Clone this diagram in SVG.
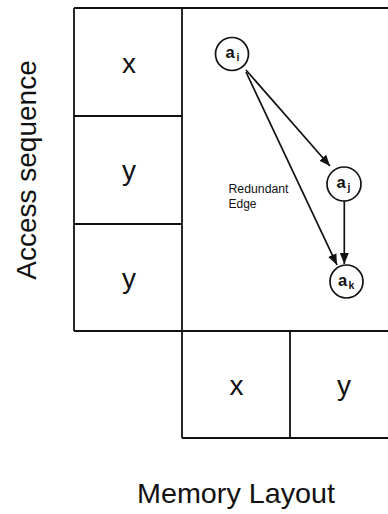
<svg xmlns="http://www.w3.org/2000/svg" width="388" height="514" viewBox="0 0 388 514">
  <style>
    .grid { stroke: #111; stroke-width: 1.8; fill: none; }
    .cell { font-family: "Liberation Sans", Arial, sans-serif; font-size: 28px; fill: #111; text-anchor: middle; }
    .axis { font-family: "Liberation Sans", Arial, sans-serif; font-size: 28px; fill: #111; text-anchor: middle; }
    .node circle { fill: #fff; stroke: #111; stroke-width: 1.7; }
    .node text { font-family: "Liberation Sans", Arial, sans-serif; font-weight: bold; fill: #111; }
    .edge { stroke: #111; stroke-width: 1.7; fill: none; marker-end: url(#arrow); }
    .note { font-family: "Liberation Sans", Arial, sans-serif; font-size: 12px; fill: #111; }
  </style>
  <defs>
    <marker id="arrow" markerUnits="userSpaceOnUse" markerWidth="12" markerHeight="10" viewBox="0 0 12 10" refX="11" refY="5" orient="auto">
      <path d="M0,0.5 L11,5 L0,9.5 Z" fill="#111"/>
    </marker>
  </defs>

  <rect width="388" height="514" fill="#fff"/>

  <!-- access sequence column and memory layout row -->
  <g id="grid" class="grid">
    <path d="M74,8 H388 M74,8 V331 M74,116 H182 M74,224 H182 M74,331 H388 M182,8 V438 M290,331 V438 M182,438 H388"/>
  </g>

  <g id="seq-1"><text class="cell" x="129" y="73">x</text></g>
  <g id="seq-2"><text class="cell" x="129" y="180">y</text></g>
  <g id="seq-3"><text class="cell" x="129" y="288">y</text></g>
  <g id="mem-1"><text class="cell" x="236.5" y="395">x</text></g>
  <g id="mem-2"><text class="cell" x="344" y="395">y</text></g>

  <text class="axis" transform="translate(36,170) rotate(-90)" x="0" y="0">Access sequence</text>
  <text class="axis" x="236" y="503" textLength="198" lengthAdjust="spacingAndGlyphs">Memory Layout</text>

  <!-- dependence edges -->
  <g id="edges">
    <line class="edge" x1="246" y1="70" x2="330" y2="166"/>
    <line class="edge" x1="246" y1="72" x2="337" y2="265"/>
    <line class="edge" x1="344.3" y1="201" x2="344.3" y2="264"/>
  </g>

  <g id="node-ai" class="node">
    <circle cx="232" cy="54" r="16.5"/>
    <text x="225.5" y="58" font-size="16.5">a</text>
    <text x="236.5" y="61" font-size="10.5">i</text>
  </g>
  <g id="node-aj" class="node">
    <circle cx="344" cy="184" r="17"/>
    <text x="336.5" y="188" font-size="16.5">a</text>
    <text x="347.5" y="191" font-size="10.5">j</text>
  </g>
  <g id="node-ak" class="node">
    <circle cx="346.5" cy="281.5" r="16.5"/>
    <text x="338" y="286" font-size="16.5">a</text>
    <text x="348.5" y="289" font-size="10.5">k</text>
  </g>

  <g id="label-redundant">
    <text class="note" x="228.5" y="193" textLength="60" lengthAdjust="spacingAndGlyphs">Redundant</text>
    <text class="note" x="228.5" y="208">Edge</text>
  </g>
</svg>
